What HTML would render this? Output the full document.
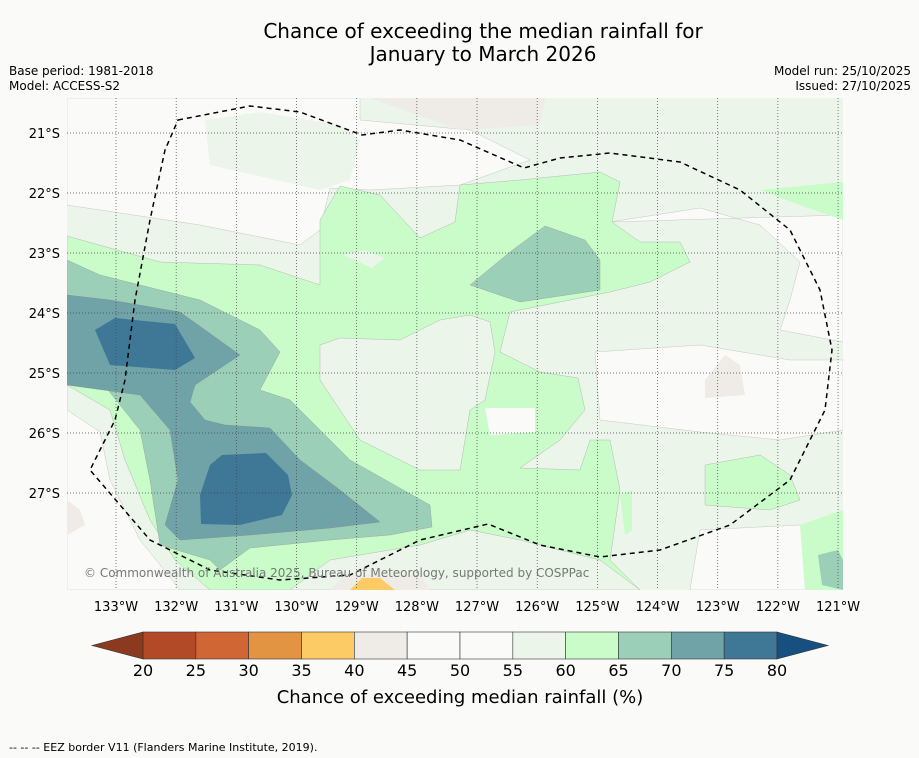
<!DOCTYPE html>
<html><head><meta charset="utf-8"><style>
body{margin:0;background:#fafbf9;font-family:"Liberation Sans","DejaVu Sans",sans-serif;overflow:hidden}
svg{display:block}
svg text{font-family:"DejaVu Sans","Liberation Sans",sans-serif}
</style></head><body>
<svg id="c" width="919" height="758" viewBox="0 0 919 758">
<rect width="919" height="758" fill="#fafbf9"/>
<text x="483" y="38" font-size="20" text-anchor="middle">Chance of exceeding the median rainfall for</text>
<text x="483" y="61" font-size="20" text-anchor="middle">January to March 2026</text>
<text x="9" y="75" font-size="12">Base period: 1981-2018</text>
<text x="9" y="90" font-size="12">Model: ACCESS-S2</text>
<text x="911" y="75" font-size="12" text-anchor="end">Model run: 25/10/2025</text>
<text x="911" y="90" font-size="12" text-anchor="end">Issued: 27/10/2025</text>
<defs><clipPath id="mc"><rect x="67" y="98" width="776" height="492"/></clipPath></defs>
<g clip-path="url(#mc)">
<rect x="67" y="98" width="776" height="492" fill="#ebf5ea"/>
<path d="M67,98 L360,98 L360,120 L470,130 L530,160 L460,185 L370,190 L330,188 L320,230 L300,245 L200,225 L67,205 Z" fill="#fafbf9" stroke="#bbb" stroke-width="0.4"/>
<path d="M205,120 L260,112 L340,125 L360,140 L350,180 L320,190 L210,165 Z" fill="#ebf5ea"/>
<path d="M610,222 L700,208 L760,225 L800,262 L790,300 L780,330 L843,342 L843,215 Z" fill="#fafbf9" stroke="#bbb" stroke-width="0.4"/>
<path d="M595,352 L700,345 L790,360 L843,360 L843,430 L780,440 L700,432 L600,420 Z" fill="#fafbf9" stroke="#bbb" stroke-width="0.4"/>
<path d="M700,530 L800,525 L843,545 L843,590 L690,590 Z" fill="#fafbf9" stroke="#bbb" stroke-width="0.4"/>
<path d="M370,98 L545,98 L540,125 L460,130 Z" fill="#efebe6"/>
<path d="M705,380 L725,355 L740,365 L745,395 L705,398 Z" fill="#efebe6"/>
<path d="M67,236 L160,262 L260,265 L320,285 L320,220 L340,186 L380,195 L420,238 L455,222 L460,185 L520,180 L600,172 L620,182 L612,222 L640,242 L680,242 L690,262 L650,282 L610,292 L560,302 L510,312 L500,352 L540,372 L578,378 L585,410 L560,440 L520,468 L580,470 L590,440 L610,440 L620,490 L610,560 L640,590 L67,590 Z" fill="#c9fcc9" stroke="#aaa" stroke-width="0.4"/>
<path d="M320,345 L340,338 L400,340 L440,320 L470,315 L490,322 L495,352 L485,400 L470,410 L460,470 L420,470 L360,440 L320,380 Z" fill="#ebf5ea" stroke="#aaa" stroke-width="0.4"/>
<path d="M485,408 L535,408 L535,432 L490,435 Z" fill="#fafbf9"/>
<path d="M343,255 L365,250 L385,258 L372,268 Z" fill="#ebf5ea"/>
<path d="M67,385 L110,410 L125,460 L150,520 L175,560 L210,590 L67,590 Z" fill="#ebf5ea" stroke="#aaa" stroke-width="0.4"/>
<path d="M67,410 L100,432 L110,480 L140,540 L180,590 L67,590 Z" fill="#fafbf9" stroke="#bbb" stroke-width="0.4"/>
<path d="M67,500 L80,510 L85,525 L67,535 Z" fill="#efebe6"/>
<path d="M290,590 L330,560 L420,545 L470,530 L520,540 L600,560 L640,590 Z" fill="#ebf5ea" stroke="#aaa" stroke-width="0.4"/>
<path d="M760,190 L843,182 L843,220 L800,205 Z" fill="#c9fcc9"/>
<path d="M705,465 L760,455 L790,475 L800,500 L770,510 L705,505 Z" fill="#c9fcc9" stroke="#aaa" stroke-width="0.4"/>
<path d="M800,525 L843,510 L843,590 L805,590 Z" fill="#c9fcc9"/>
<path d="M620,495 L632,490 L632,530 L625,535 Z" fill="#c9fcc9"/>
<path d="M67,260 L100,275 L200,300 L260,330 L280,352 L260,390 L290,400 L320,430 L350,460 L430,505 L432,527 L390,535 L330,540 L250,548 L220,570 L210,560 L160,545 L150,480 L140,430 L100,380 L67,375 Z" fill="#9ccfb8" stroke="#999" stroke-width="0.4"/>
<path d="M470,285 L510,252 L545,226 L585,240 L600,260 L600,290 L520,302 Z" fill="#9ccfb8" stroke="#999" stroke-width="0.4"/>
<path d="M818,555 L838,550 L843,560 L843,590 L822,585 Z" fill="#9ccfb8"/>
<path d="M67,295 L110,300 L180,312 L240,355 L195,385 L190,402 L205,420 L225,425 L270,428 L300,460 L340,490 L380,522 L330,528 L250,535 L180,540 L165,525 L178,480 L170,430 L140,395 L67,385 Z" fill="#6fa3a8" stroke="#888" stroke-width="0.4"/>
<path d="M95,330 L115,318 L175,324 L195,358 L175,370 L110,365 Z" fill="#3f7896"/>
<path d="M210,465 L222,455 L266,453 L288,475 L292,495 L282,515 L240,525 L201,524 L200,495 Z" fill="#3f7896"/>
<path d="M330,590 L345,575 L420,575 L430,590 Z" fill="#efebe6"/>
<path d="M350,590 L362,578 L380,578 L395,590 Z" fill="#fdcb66"/>
<g id="grid"></g>
<path d="M178,120 L250,106 L300,112 L362,135 L400,130 L460,140 L524,168 L560,158 L610,153 L680,162 L740,190 L790,230 L820,290 L832,350 L825,410 L790,480 L730,525 L660,550 L600,557 L540,545 L488,524 L420,540 L350,575 L280,580 L210,570 L150,540 L90,470 L115,420 L125,380 L135,300 L150,220 L165,150 Z" fill="none" stroke="#000" stroke-width="1.5" stroke-dasharray="5,4"/>
</g>
<text x="84" y="577" font-size="12" fill="#777">© Commonwealth of Australia 2025, Bureau of Meteorology, supported by COSPPac</text>
<g id="axes"></g>
<g id="cbar"></g>
<text x="460" y="703" font-size="18" text-anchor="middle">Chance of exceeding median rainfall (%)</text>
<text x="9" y="751" font-size="11">--  --  -- EEZ border V11 (Flanders Marine Institute, 2019).</text>
</svg>
<script>
const lonTicks=[133,132,131,130,129,128,127,126,125,124,123,122,121];
const latTicks=[21,22,23,24,25,26,27];
const cbarLevels=[20,25,30,35,40,45,50,55,60,65,70,75,80];
const cbarColors=["#b24a28","#cf6633","#e39443","#fdcb66","#efebe6","#fafbf9","#fafbf9","#ebf5ea","#c9fcc9","#9ccfb8","#6fa3a8","#3f7896"];
const cbarUnder="#8b3a1f", cbarOver="#164f80";
const NS="http://www.w3.org/2000/svg";
const xLon=l=>116+(133-l)*60.17;
const yLat=l=>133+(l-21)*60;
const xC=v=>143+(v-20)*(777-143)/60;
function mk(t,a,p){const e=document.createElementNS(NS,t);for(const k in a)e.setAttribute(k,a[k]);p.appendChild(e);return e;}
const grid=document.getElementById('grid'),axes=document.getElementById('axes'),cb=document.getElementById('cbar');
lonTicks.forEach(l=>{
 const ln=mk('line',{x1:xLon(l),x2:xLon(l),y1:98,y2:590,stroke:'#444','stroke-width':0.7,'stroke-dasharray':'1,2'},grid);
 
 
 const t=mk('text',{x:xLon(l),y:611,'font-size':13,'text-anchor':'middle'},axes);t.textContent=l+'°W';
 
 
});
latTicks.forEach(l=>{
 const ln=mk('line',{x1:67,x2:843,y1:yLat(l),y2:yLat(l),stroke:'#444','stroke-width':0.7,'stroke-dasharray':'1,2'},grid);
 
 
 const t=mk('text',{x:60,y:yLat(l)+5,'font-size':13,'text-anchor':'end'},axes);t.textContent=l+'°S';
 
 
});
const y0=632,y1=659;
cbarColors.forEach((c,i)=>{
 const r=mk('rect',{x:xC(cbarLevels[i]),y:y0,width:xC(cbarLevels[i+1])-xC(cbarLevels[i]),height:y1-y0,fill:c,stroke:'#333','stroke-width':0.6},cb);
 
 
});
const u=mk('polygon',{points:`${xC(20)},${y0} ${xC(20)},${y1} 92,${(y0+y1)/2}`,fill:cbarUnder,stroke:'#333','stroke-width':0.6},cb);


const o=mk('polygon',{points:`${xC(80)},${y0} ${xC(80)},${y1} 828,${(y0+y1)/2}`,fill:cbarOver,stroke:'#333','stroke-width':0.6},cb);


cbarLevels.forEach(v=>{
 const t=mk('text',{x:xC(v),y:676,'font-size':16,'text-anchor':'middle'},cb);t.textContent=v;
 
 
});
</script>
</body></html>
